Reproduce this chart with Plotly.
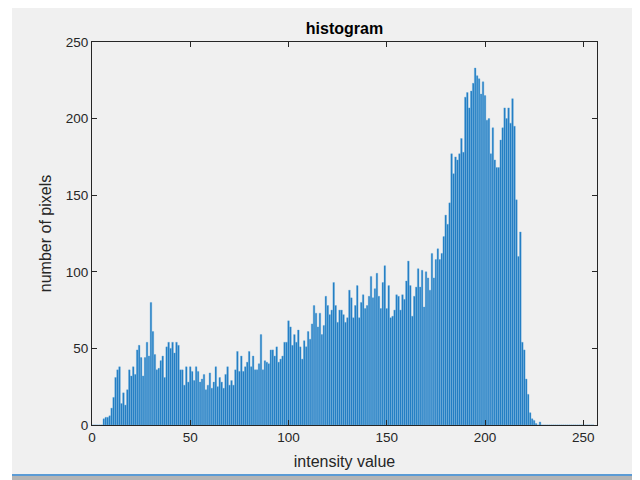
import plotly.graph_objects as go

# intensity -> pixel count; values not listed are 0
start_a = 6
counts_a = [4, 5, 5, 6, 11, 18, 31, 36, 38, 14, 21, 13, 23, 36, 32, 38, 33, 49, 52, 44,
            32, 44, 54, 45, 80, 61, 46, 36, 37, 42, 45, 31, 51, 54, 50, 54, 47, 54, 52, 36]
start_b = 46
counts_b = [36, 26, 38, 28, 38, 35, 29, 38, 35, 28, 30, 33, 23, 26, 34, 24, 28, 38, 25, 31,
            28, 24, 33, 38, 26, 29, 26, 36, 48, 35, 45, 35, 38, 41, 48, 38, 45, 36, 36, 40,
            59, 36, 42, 41, 40]
start_c = 91
counts_c = [49, 49, 45, 51, 41, 43, 45, 54, 54, 68, 64, 52, 59, 54, 62, 51, 43, 55, 51, 61,
            56, 66, 78, 73, 64, 73, 59, 65, 84, 78, 72, 75, 93, 78, 67, 75, 75, 72, 67, 70,
            88, 83]
start_d = 133
counts_d = [70, 78, 91, 70, 80, 85, 76, 78, 84, 97, 83, 89, 99, 84, 76, 93, 104, 76, 91, 70,
            71, 75, 85, 84, 75, 85, 82, 94, 107, 91, 71, 84, 90, 102, 90, 101, 77, 100, 96, 88]
start_e = 173
counts_e = [112, 96, 108, 115, 108, 112, 123, 137, 131, 145, 177, 164, 175, 173, 177, 187,
            178, 214, 217, 207, 218, 223, 233, 228, 226, 216, 224]
start_f = 200
counts_f = [215, 199, 200, 177, 194, 173, 168, 168, 186, 194, 207, 200, 207, 197, 213, 195,
            147, 110, 126, 54, 49, 30, 20, 8, 4, 3, 1, 0, 2]

intensity = list(range(256))
counts = [0] * 256
for s, arr in [(start_a, counts_a), (start_b, counts_b), (start_c, counts_c),
               (start_d, counts_d), (start_e, counts_e), (start_f, counts_f)]:
    for k, v in enumerate(arr):
        counts[s + k] = v

x_ticks = [0, 50, 100, 150, 200, 250]
y_ticks = [0, 50, 100, 150, 200, 250]

font = "Liberation Sans, Arial, sans-serif"
ink = "#262626"

# page offset of the figure (body margin) is 8 px; plot area spans page x 92..597, y 42..425
PX0, PX1, PY0, PY1 = 92, 597, 42, 425


def px(v):
    return (v - PX0) / (PX1 - PX0)


def py(v):
    return (PY1 - v) / (PY1 - PY0)


fig = go.Figure(go.Bar(
    x=intensity, y=counts,
    marker=dict(color="#1b78c0", line=dict(color="#5aa6dc", width=0.4)),
))

fig.update_layout(
    width=632, height=472,
    margin=dict(l=84, r=43, t=34, b=55),
    paper_bgcolor="white",
    plot_bgcolor="white",
    bargap=0.2,
    showlegend=False,
    title=dict(text="<b>histogram</b>", x=0.5, xanchor="center", xref="paper",
               y=1, yref="paper", yanchor="bottom", pad=dict(b=8),
               font=dict(family=font, size=16, color="black")),
    font=dict(family=font, size=13.5, color=ink),
    shapes=[
        dict(type="rect", xref="paper", yref="paper", layer="below",
             x0=px(12), x1=px(660), y0=py(474), y1=py(0),
             fillcolor="#f0f0f0", line=dict(width=0)),
        dict(type="rect", xref="paper", yref="paper", layer="below",
             x0=px(12), x1=px(660), y0=py(476), y1=py(474),
             fillcolor="#5b9bd5", line=dict(width=0)),
        dict(type="rect", xref="paper", yref="paper", layer="below",
             x0=px(12), x1=px(660), y0=py(490), y1=py(476),
             fillcolor="#b4b4b4", line=dict(width=0)),
    ],
)

fig.update_xaxes(
    range=[0, 257], tickvals=x_ticks, ticks="inside", ticklen=5, tickcolor=ink,
    showgrid=False, zeroline=False, showline=True, linecolor=ink, linewidth=1,
    mirror="ticks", tickfont=dict(family=font, size=13.5, color=ink),
    title=dict(text="intensity value", font=dict(family=font, size=16, color=ink), standoff=11),
)
fig.update_yaxes(
    range=[0, 250], tickvals=y_ticks, ticks="inside", ticklen=5, tickcolor=ink,
    showgrid=False, zeroline=False, showline=True, linecolor=ink, linewidth=1,
    mirror="ticks", tickfont=dict(family=font, size=13.5, color=ink),
    title=dict(text="number of pixels", font=dict(family=font, size=16, color=ink), standoff=10),
)

fig.write_html("out.html")
